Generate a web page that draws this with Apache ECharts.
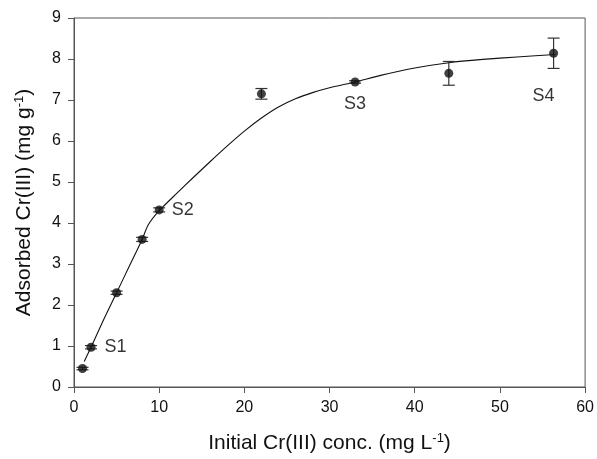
<!DOCTYPE html>
<html>
<head>
<meta charset="utf-8">
<script src="https://cdn.jsdelivr.net/npm/echarts@6/dist/echarts.min.js"></script>
<style>
  html, body { margin: 0; padding: 0; background: #fff; }
  #chart { width: 597px; height: 459px; }
</style>
</head>
<body>
<div id="chart"></div>
<script>
// Measured adsorption (mean and error) at each initial concentration
const concX = [1, 2, 5, 8, 10, 22, 33, 44, 56.3];
const adsorbedY = [0.45, 0.97, 2.3, 3.6, 4.32, 7.15, 7.44, 7.65, 8.14];
const errorY = [0.03, 0.04, 0.04, 0.05, 0.05, 0.13, 0.03, 0.29, 0.37];

// Fitted isotherm curve
const fitX = [1.2, 2, 3.5, 5, 6.5, 8, 8.7, 10, 12, 14, 16, 18, 20, 22, 24, 26, 28, 30, 33, 36, 40, 44, 48, 52, 56.5];
const fitY = [0.62, 0.97, 1.65, 2.3, 2.95, 3.6, 3.95, 4.3, 4.71, 5.11, 5.5, 5.88, 6.24, 6.56, 6.83, 7.03, 7.18, 7.3, 7.44, 7.6, 7.78, 7.91, 7.99, 8.05, 8.11];

// Sample tags and the point index each one annotates
const tagNames = ['S1', 'S2', 'S3', 'S4'];
const tagIndex = [1, 4, 6, 8];

// Axis ticks
const xTicks = [0, 10, 20, 30, 40, 50, 60];
const yTicks = [0, 1, 2, 3, 4, 5, 6, 7, 8, 9];

const FONT = 'Liberation Sans, Arial, sans-serif';
const INK = '#111';
const AXIS = '#555';

const tagStyles = {
  S1: { position: 'right', distance: 9 },
  S2: { position: 'right', distance: 8 },
  S3: { position: 'bottom', distance: 9 },
  S4: { position: 'bottom', distance: 29, offset: [-10, 0] }
};

const pointData = concX.map((x, i) => {
  const item = { value: [x, adsorbedY[i]] };
  const t = tagIndex.indexOf(i);
  if (t >= 0) {
    const name = tagNames[t];
    item.label = Object.assign({
      show: true,
      formatter: name,
      color: '#000',
      textBorderWidth: 0,
      fontSize: 18,
      fontFamily: FONT
    }, tagStyles[name]);
  }
  return item;
});

const errData = concX.map((x, i) => [x, adsorbedY[i], errorY[i]]);

const chart = echarts.init(document.getElementById('chart'), null, { renderer: 'canvas' });

const supStyle = { fontSize: 13, fontFamily: FONT, color: INK, padding: [0, 0, 10, 0] };

chart.setOption({
  animation: false,
  backgroundColor: '#fff',
  grid: {
    left: 74, right: 10, top: 18, bottom: 71,
    show: true, borderColor: AXIS, borderWidth: 1
  },
  xAxis: {
    type: 'value',
    min: xTicks[0], max: xTicks[xTicks.length - 1], interval: 10,
    name: 'Initial Cr(III) conc. (mg L{sup|-1})',
    nameLocation: 'middle',
    nameGap: 45,
    nameTextStyle: { color: INK, fontSize: 21, fontFamily: FONT, rich: { sup: supStyle } },
    axisLine: { lineStyle: { color: AXIS, width: 1 } },
    axisTick: { show: true, inside: false, length: 6, lineStyle: { color: AXIS } },
    axisLabel: { color: INK, fontSize: 16, fontFamily: FONT, margin: 13 },
    splitLine: { show: false }
  },
  yAxis: {
    type: 'value',
    min: yTicks[0], max: yTicks[yTicks.length - 1], interval: 1,
    name: 'Adsorbed Cr(III) (mg g{sup|-1})',
    nameLocation: 'middle',
    nameRotate: 90,
    nameGap: 38,
    nameTextStyle: { color: INK, fontSize: 21, fontFamily: FONT, rich: { sup: supStyle } },
    axisLine: { show: true, lineStyle: { color: AXIS, width: 1 } },
    axisTick: { show: true, inside: false, length: 6, lineStyle: { color: AXIS } },
    axisLabel: { color: INK, fontSize: 16, fontFamily: FONT, margin: 13 },
    splitLine: { show: false }
  },
  series: [
    {
      type: 'line',
      data: fitX.map((x, i) => [x, fitY[i]]),
      smooth: 0.2,
      showSymbol: false,
      lineStyle: { color: INK, width: 1.1 },
      z: 2
    },
    {
      type: 'custom',
      data: errData,
      renderItem: function (params, api) {
        const x = api.value(0), y = api.value(1), e = api.value(2);
        const top = api.coord([x, y + e]);
        const bot = api.coord([x, y - e]);
        const hw = 6;
        const style = { stroke: '#333', lineWidth: 1.2 };
        return {
          type: 'group',
          children: [
            { type: 'line', shape: { x1: top[0], y1: top[1], x2: bot[0], y2: bot[1] }, style: style },
            { type: 'line', shape: { x1: top[0] - hw, y1: top[1], x2: top[0] + hw, y2: top[1] }, style: style },
            { type: 'line', shape: { x1: bot[0] - hw, y1: bot[1], x2: bot[0] + hw, y2: bot[1] }, style: style }
          ]
        };
      },
      z: 3
    },
    {
      type: 'scatter',
      data: pointData,
      symbol: 'circle',
      symbolSize: 9,
      itemStyle: { color: '#111' },
      z: 4
    }
  ]
});
</script>
</body>
</html>
